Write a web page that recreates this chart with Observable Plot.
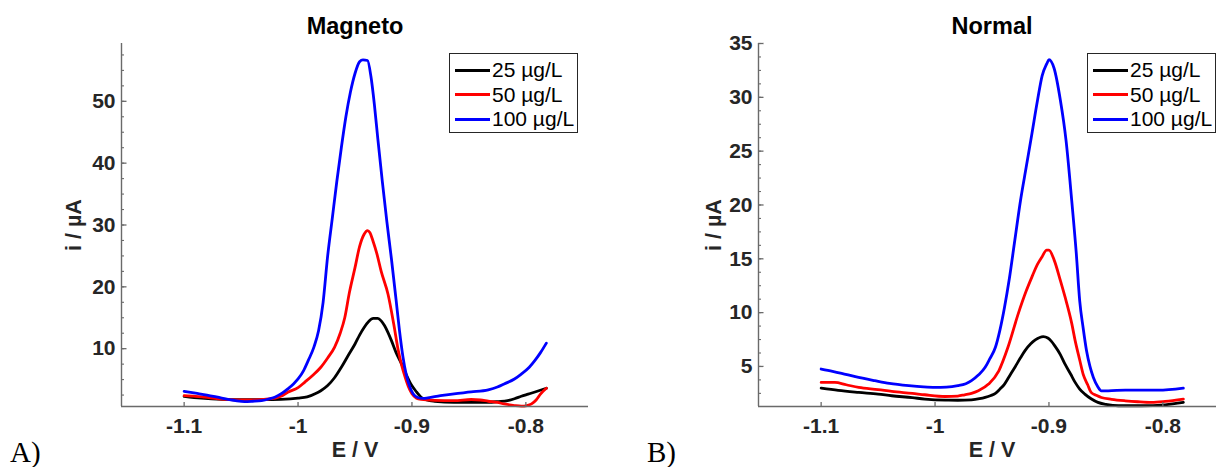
<!DOCTYPE html>
<html><head><meta charset="utf-8">
<script src="https://cdn.jsdelivr.net/npm/d3@7"></script>
<script src="https://cdn.jsdelivr.net/npm/@observablehq/plot@0.6"></script>
<style>
html,body{margin:0;padding:0;background:#fff;}
#root{position:relative;width:1216px;height:467px;overflow:hidden;font-family:"Liberation Sans",Arial,Helvetica,sans-serif;}
.panel{position:absolute;top:0;width:600px;height:467px;}
.panel svg{max-width:none !important;}
.legend{position:absolute;box-sizing:border-box;border:1px solid #262626;background:#fff;padding:4px 0 0 5px;}
.legend .row{display:flex;align-items:center;height:24.5px;font-size:21px;color:#000;white-space:nowrap;}
.legend .sw{display:inline-block;width:35px;height:3px;margin-right:2px;}
.plabel{position:absolute;font-family:"Liberation Serif","Times New Roman",serif;font-size:29px;line-height:1;color:#000;}
</style></head>
<body><div id="root"></div>
<script>
// ---- data ----
const series = ["25 µg/L", "50 µg/L", "100 µg/L"];
const colors = ["#000000", "#ff0000", "#0000ff"];
const titles = ["Magneto", "Normal"];
const panelLetters = ["A)", "B)"];
const xLabel = "E / V";
const yLabel = "i / µA";
const xTicks = [-1.1, -1.0, -0.9, -0.8];
const xTickLabels = ["-1.1", "-1", "-0.9", "-0.8"];
const xDomain = [-1.155, -0.745];
const magnetoYDomain = [0.65, 59.35];
const magnetoYTicks = [10, 20, 30, 40, 50];
const magnetoYMinor = d3.range(2.5, 59, 2.5);
const normalYDomain = [1.28, 35];
const normalYTicks = [5, 10, 15, 20, 25, 30, 35];
const normalYMinor = d3.range(2.5, 35.01, 1.25);

// [E (V), i (µA)]
const magneto25 = [[-1.100,2.3],[-1.085,2.0],[-1.067,1.8],[-1.050,1.75],[-1.030,1.75],[-1.015,1.8],[-1.000,1.99],[-0.992,2.2],[-0.985,2.7],[-0.980,3.2],[-0.974,4.04],[-0.968,5.3],[-0.962,6.99],[-0.956,8.9],[-0.950,10.76],[-0.946,12.2],[-0.942,13.44],[-0.938,14.4],[-0.934,14.9],[-0.930,14.9],[-0.927,14.5],[-0.924,13.7],[-0.921,12.6],[-0.918,11.3],[-0.914,9.4],[-0.909,7.5],[-0.905,5.8],[-0.901,4.3],[-0.896,3.0],[-0.892,2.15],[-0.887,1.7],[-0.880,1.5],[-0.863,1.34],[-0.833,1.34],[-0.824,1.45],[-0.816,1.6],[-0.810,1.9],[-0.804,2.3],[-0.798,2.65],[-0.792,3.0],[-0.782,3.6]];
const magneto50 = [[-1.100,2.4],[-1.090,2.3],[-1.082,2.15],[-1.070,1.9],[-1.060,1.75],[-1.050,1.7],[-1.040,1.72],[-1.030,1.8],[-1.020,2.0],[-1.015,2.3],[-1.009,2.95],[-1.000,3.7],[-0.994,4.6],[-0.987,5.7],[-0.980,7.0],[-0.974,8.5],[-0.968,10.2],[-0.963,12.5],[-0.959,15.0],[-0.955,19.0],[-0.950,23.1],[-0.946,26.5],[-0.942,28.5],[-0.939,29.1],[-0.937,28.8],[-0.934,27.3],[-0.931,25.5],[-0.927,22.5],[-0.921,18.8],[-0.916,14.0],[-0.912,9.7],[-0.909,7.3],[-0.906,5.4],[-0.903,3.8],[-0.900,2.7],[-0.896,2.0],[-0.892,1.8],[-0.880,1.65],[-0.863,1.6],[-0.848,1.78],[-0.840,1.7],[-0.833,1.5],[-0.825,1.3],[-0.819,1.07],[-0.810,0.8],[-0.804,0.7],[-0.799,0.8],[-0.795,1.07],[-0.791,1.7],[-0.787,2.7],[-0.782,3.6]];
const magneto100 = [[-1.100,3.1],[-1.090,2.8],[-1.080,2.5],[-1.067,2.0],[-1.055,1.6],[-1.047,1.45],[-1.040,1.5],[-1.032,1.6],[-1.025,1.9],[-1.020,2.2],[-1.014,2.8],[-1.009,3.5],[-1.004,4.3],[-1.000,5.1],[-0.995,6.5],[-0.991,8.1],[-0.986,10.3],[-0.982,12.9],[-0.978,17.5],[-0.974,25.0],[-0.970,31.0],[-0.966,37.0],[-0.962,42.5],[-0.958,47.5],[-0.954,51.5],[-0.950,54.5],[-0.946,56.4],[-0.943,56.7],[-0.939,56.6],[-0.936,54.0],[-0.933,49.5],[-0.930,44.0],[-0.926,37.0],[-0.922,30.5],[-0.918,24.5],[-0.914,18.0],[-0.911,13.0],[-0.908,8.8],[-0.905,5.8],[-0.902,3.9],[-0.899,2.7],[-0.895,2.1],[-0.890,1.95],[-0.886,2.05],[-0.875,2.4],[-0.863,2.7],[-0.848,3.0],[-0.833,3.35],[-0.825,3.8],[-0.819,4.3],[-0.810,5.1],[-0.804,5.9],[-0.797,7.0],[-0.792,8.1],[-0.787,9.4],[-0.782,10.9]];

const normal25 = [[-1.100,2.99],[-1.085,2.78],[-1.067,2.59],[-1.050,2.43],[-1.038,2.28],[-1.020,2.1],[-1.009,1.97],[-0.991,1.87],[-0.980,1.86],[-0.968,1.9],[-0.961,2.0],[-0.956,2.12],[-0.951,2.3],[-0.947,2.5],[-0.943,2.9],[-0.939,3.36],[-0.935,4.05],[-0.930,4.91],[-0.925,5.8],[-0.921,6.47],[-0.916,7.1],[-0.912,7.46],[-0.905,7.77],[-0.901,7.64],[-0.898,7.35],[-0.895,6.93],[-0.890,6.1],[-0.886,5.23],[-0.881,4.3],[-0.877,3.52],[-0.873,2.9],[-0.8685,2.43],[-0.863,2.0],[-0.857,1.66],[-0.850,1.48],[-0.839,1.35],[-0.819,1.35],[-0.798,1.44],[-0.782,1.66]];
const normal50 = [[-1.100,3.52],[-1.088,3.52],[-1.078,3.3],[-1.067,3.05],[-1.050,2.85],[-1.038,2.68],[-1.020,2.5],[-1.009,2.37],[-0.991,2.21],[-0.980,2.25],[-0.974,2.37],[-0.968,2.5],[-0.962,2.74],[-0.953,3.36],[-0.944,4.6],[-0.936,6.78],[-0.927,9.88],[-0.920,12.0],[-0.915,13.3],[-0.910,14.5],[-0.906,15.2],[-0.902,15.8],[-0.900,15.8],[-0.8955,14.9],[-0.890,13.0],[-0.886,11.5],[-0.880,9.0],[-0.877,7.4],[-0.873,5.6],[-0.870,4.29],[-0.866,3.3],[-0.863,2.59],[-0.858,2.3],[-0.854,2.12],[-0.845,1.95],[-0.833,1.81],[-0.822,1.72],[-0.810,1.66],[-0.798,1.75],[-0.782,1.97]];
const normal100 = [[-1.100,4.76],[-1.090,4.55],[-1.082,4.36],[-1.070,4.05],[-1.053,3.68],[-1.040,3.42],[-1.023,3.21],[-1.010,3.1],[-1.000,3.06],[-0.990,3.08],[-0.980,3.21],[-0.973,3.4],[-0.968,3.68],[-0.962,4.2],[-0.956,4.92],[-0.952,5.7],[-0.947,6.78],[-0.943,8.4],[-0.939,10.5],[-0.935,13.0],[-0.930,16.7],[-0.925,20.4],[-0.920,23.5],[-0.915,26.6],[-0.910,29.75],[-0.906,32.0],[-0.902,33.1],[-0.900,33.5],[-0.8955,32.7],[-0.890,29.75],[-0.885,26.0],[-0.880,20.4],[-0.876,15.5],[-0.873,11.1],[-0.870,8.6],[-0.867,6.46],[-0.864,5.0],[-0.861,3.98],[-0.857,3.1],[-0.854,2.74],[-0.848,2.74],[-0.833,2.8],[-0.804,2.8],[-0.782,2.99]];

// ---- drawing ----
const font = '"Liberation Sans", Arial, Helvetica, sans-serif';
const axisColor = "#6a6a6a";
const textColor = "#262626";

function rowsOf(list) {
  const rows = [];
  list.forEach((pts, k) => pts.forEach(([E, I]) => rows.push({E, I, s: series[k]})));
  return rows;
}

function panel({title, data, yDomain, yTicks, yMinor, yLabelDx}) {
  return Plot.plot({
    width: 600, height: 467,
    marginLeft: 121, marginRight: 12, marginTop: 43, marginBottom: 61,
    x: {domain: xDomain},
    y: {domain: yDomain},
    color: {domain: series, range: colors},
    style: {fontFamily: font, background: "transparent", maxWidth: "none", overflow: "visible"},
    marks: [
      Plot.line(rowsOf(data), {x: "E", y: "I", z: "s", stroke: "s", strokeWidth: 2.8, curve: "monotone-x"}),
      Plot.ruleY([yDomain[0]], {stroke: axisColor, strokeWidth: 1.4}),
      Plot.ruleX([xDomain[0]], {stroke: axisColor, strokeWidth: 1.4}),
      Plot.axisX({ticks: xTicks, tickSize: -4, tickPadding: 16, tickFormat: (d, i) => xTickLabels[i],
        fontSize: 21, fontWeight: "bold", fill: textColor, stroke: axisColor, strokeWidth: 1.3, label: null}),
      Plot.axisY({ticks: yMinor, tickSize: -3, tickFormat: () => "", stroke: axisColor, strokeWidth: 1.1, label: null}),
      Plot.axisY({ticks: yTicks, tickSize: -5.5, tickPadding: 11.5, tickFormat: d => String(d),
        fontSize: 21, fontWeight: "bold", fill: textColor, stroke: axisColor, strokeWidth: 1.3, label: null}),
      Plot.text([title], {frameAnchor: "top", dy: -17, lineAnchor: "middle", textAnchor: "middle", fontSize: 23.5, fontWeight: "bold", fill: "#000"}),
      Plot.text([xLabel], {frameAnchor: "bottom", dy: 44, lineAnchor: "middle", textAnchor: "middle", fontSize: 21.5, fontWeight: "bold", fill: textColor}),
      Plot.text([yLabel], {frameAnchor: "left", dx: yLabelDx, rotate: -90, lineAnchor: "middle", textAnchor: "middle", fontSize: 21.5, fontWeight: "bold", fill: textColor})
    ]
  });
}

function legend(left, top) {
  const div = document.createElement("div");
  div.className = "legend";
  div.style.left = left + "px";
  div.style.top = top + "px";
  div.style.width = "129px";
  div.style.height = "80px";
  series.forEach((s, k) => {
    const row = document.createElement("div");
    row.className = "row";
    const sw = document.createElement("span");
    sw.className = "sw";
    sw.style.background = colors[k];
    const t = document.createElement("span");
    t.textContent = s;
    row.appendChild(sw); row.appendChild(t);
    div.appendChild(row);
  });
  return div;
}

const root = document.getElementById("root");
const configs = [
  {title: titles[0], data: [magneto25, magneto50, magneto100], yDomain: magnetoYDomain, yTicks: magnetoYTicks, yMinor: magnetoYMinor, yLabelDx: -47, left: 0, legendLeft: 449, letterLeft: 10},
  {title: titles[1], data: [normal25, normal50, normal100], yDomain: normalYDomain, yTicks: normalYTicks, yMinor: normalYMinor, yLabelDx: -44, left: 637, legendLeft: 1087, letterLeft: 647}
];
configs.forEach((c, k) => {
  const wrap = document.createElement("div");
  wrap.className = "panel";
  wrap.style.left = c.left + "px";
  wrap.appendChild(panel(c));
  root.appendChild(wrap);
  root.appendChild(legend(c.legendLeft, 53));
  const lab = document.createElement("div");
  lab.className = "plabel";
  lab.style.left = c.letterLeft + "px";
  lab.style.top = "438px";
  lab.textContent = panelLetters[k];
  root.appendChild(lab);
});
</script>
</body></html>
